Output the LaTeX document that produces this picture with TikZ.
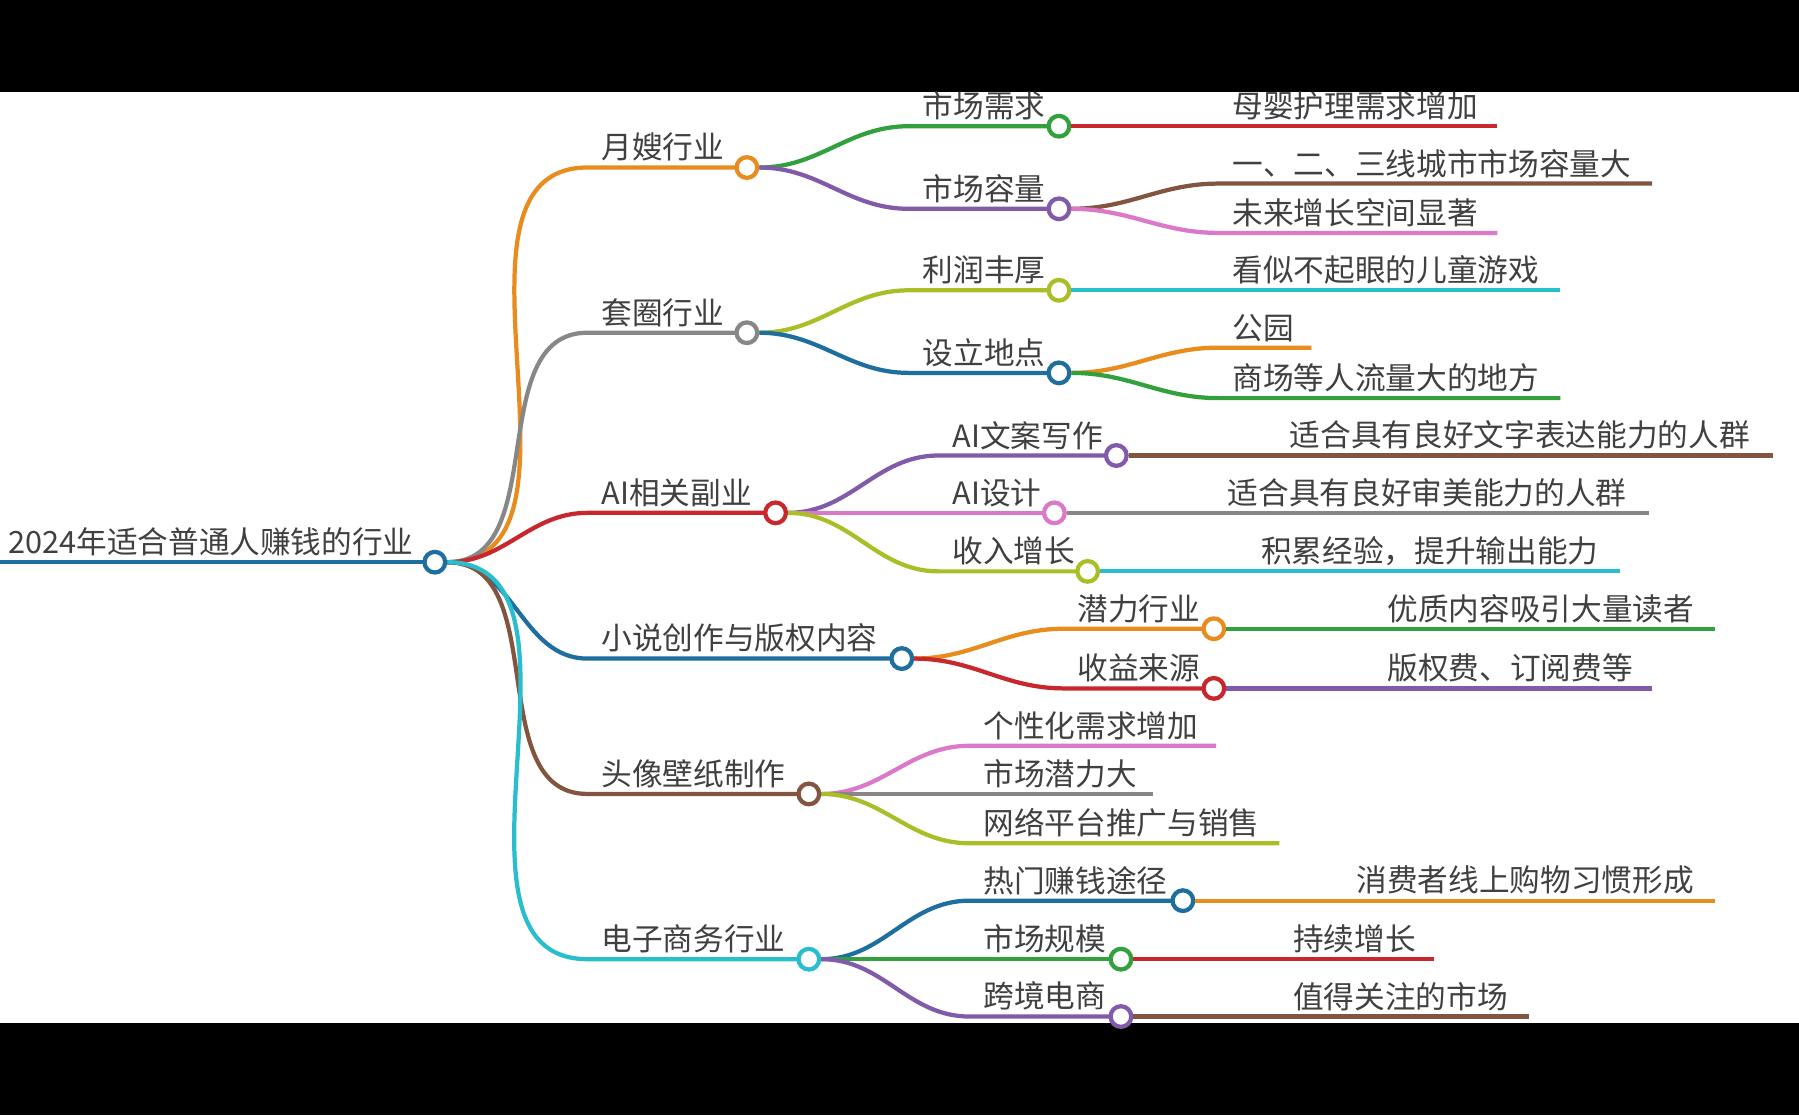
\documentclass[tikz,border=0pt]{standalone}
\usepackage{fontspec}
\setmainfont{Noto Sans CJK SC}
\usetikzlibrary{positioning}
\definecolor{cOrange}{RGB}{232,140,30}
\definecolor{cGray}{RGB}{135,135,135}
\definecolor{cRed}{RGB}{200,40,45}
\definecolor{cBlue}{RGB}{30,110,160}
\definecolor{cBrown}{RGB}{130,85,65}
\definecolor{cCyan}{RGB}{40,190,205}
\definecolor{cGreen}{RGB}{50,160,60}
\definecolor{cPurple}{RGB}{130,90,170}
\definecolor{cPink}{RGB}{220,120,200}
\definecolor{cLime}{RGB}{170,190,40}
\tikzset{
  edge/.style={line width=1.05pt},
  dot/.style={circle, draw, line width=1.05pt, fill=white, minimum size=0.18cm, inner sep=0pt},
  lbl/.style={anchor=south west, inner sep=1pt, text=black!75, font=\fontsize{7.6}{9}\selectfont}
}
% branch with a circle at its end
\newcommand\branchnode[7]{%
  \draw[edge,#6] (#2) to[out=0,in=180] (#3,#4) -- (#5,#4);
  \node[dot,draw=#6] (#1) at (#5,#4) {};
  \node[lbl] at (#3+8,#4-1) {#7};}
% leaf line without circle
\newcommand\leafline[6]{%
  \draw[edge,#5] (#1) to[out=0,in=180] (#2,#3) -- (#4,#3);
  \node[lbl] at (#2+8,#3-1) {#6};}
\begin{document}
\begin{tikzpicture}[x=0.01cm,y=-0.01cm]
  \fill[black] (0,0) rectangle (1568,972);
  \fill[white] (0,80) rectangle (1568,892);
  \useasboundingbox (0,0) rectangle (1568,972);

  % Raiz
  \draw[edge,cBlue] (0,490) -- (379,490);
  \node[dot,draw=cBlue] (root) at (379,490) {};
  \node[lbl] at (3,489) {2024年适合普通人赚钱的行业};

  % Primer nivel
  \branchnode{ys}{root}{512}{146}{651}{cOrange}{月嫂行业}
  \branchnode{tq}{root}{512}{290}{651}{cGray}{套圈行业}
  \branchnode{ai}{root}{512}{447}{676}{cRed}{AI相关副业}
  \branchnode{xs}{root}{512}{574}{786}{cBlue}{小说创作与版权内容}
  \branchnode{tx}{root}{512}{692}{705}{cBrown}{头像壁纸制作}
  \branchnode{ds}{root}{512}{836}{705}{cCyan}{电子商务行业}

  % Segundo nivel
  \branchnode{xq}{ys}{792}{110}{923}{cGreen}{市场需求}
  \branchnode{rl}{ys}{792}{182}{923}{cPurple}{市场容量}
  \branchnode{lr}{tq}{792}{253}{923}{cLime}{利润丰厚}
  \branchnode{dd}{tq}{792}{325}{923}{cBlue}{设立地点}
  \branchnode{wa}{ai}{818}{397}{973}{cPurple}{AI文案写作}
  \branchnode{sj}{ai}{818}{447}{919}{cPink}{AI设计}
  \branchnode{sr}{ai}{818}{498}{948}{cLime}{收入增长}
  \branchnode{ql}{xs}{927}{548}{1058}{cOrange}{潜力行业}
  \branchnode{sy}{xs}{927}{600}{1058}{cRed}{收益来源}
  \leafline{tx}{845}{650}{1060}{cPink}{个性化需求增加}
  \leafline{tx}{845}{692}{1005}{cGray}{市场潜力大}
  \leafline{tx}{845}{735}{1115}{cLime}{网络平台推广与销售}
  \branchnode{rm}{ds}{845}{785}{1031}{cBlue}{热门赚钱途径}
  \branchnode{gm}{ds}{845}{836}{977}{cGreen}{市场规模}
  \branchnode{kj}{ds}{845}{886}{977}{cPurple}{跨境电商}

  % Hojas
  \leafline{xq}{1062}{110}{1305}{cRed}{母婴护理需求增加}
  \leafline{rl}{1062}{160}{1440}{cBrown}{一、二、三线城市市场容量大}
  \leafline{rl}{1062}{203}{1305}{cPink}{未来增长空间显著}
  \leafline{lr}{1062}{253}{1360}{cCyan}{看似不起眼的儿童游戏}
  \leafline{dd}{1062}{303}{1143}{cOrange}{公园}
  \leafline{dd}{1062}{347}{1360}{cGreen}{商场等人流量大的地方}
  \leafline{wa}{1112}{397}{1545}{cBrown}{适合具有良好文字表达能力的人群}
  \leafline{sj}{1058}{447}{1437}{cGray}{适合具有良好审美能力的人群}
  \leafline{sr}{1087}{498}{1412}{cCyan}{积累经验，提升输出能力}
  \leafline{ql}{1197}{548}{1495}{cGreen}{优质内容吸引大量读者}
  \leafline{sy}{1197}{600}{1440}{cPurple}{版权费、订阅费等}
  \leafline{rm}{1170}{785}{1495}{cOrange}{消费者线上购物习惯形成}
  \leafline{gm}{1115}{836}{1250}{cRed}{持续增长}
  \leafline{kj}{1115}{886}{1333}{cBrown}{值得关注的市场}
\end{tikzpicture}
\end{document}
